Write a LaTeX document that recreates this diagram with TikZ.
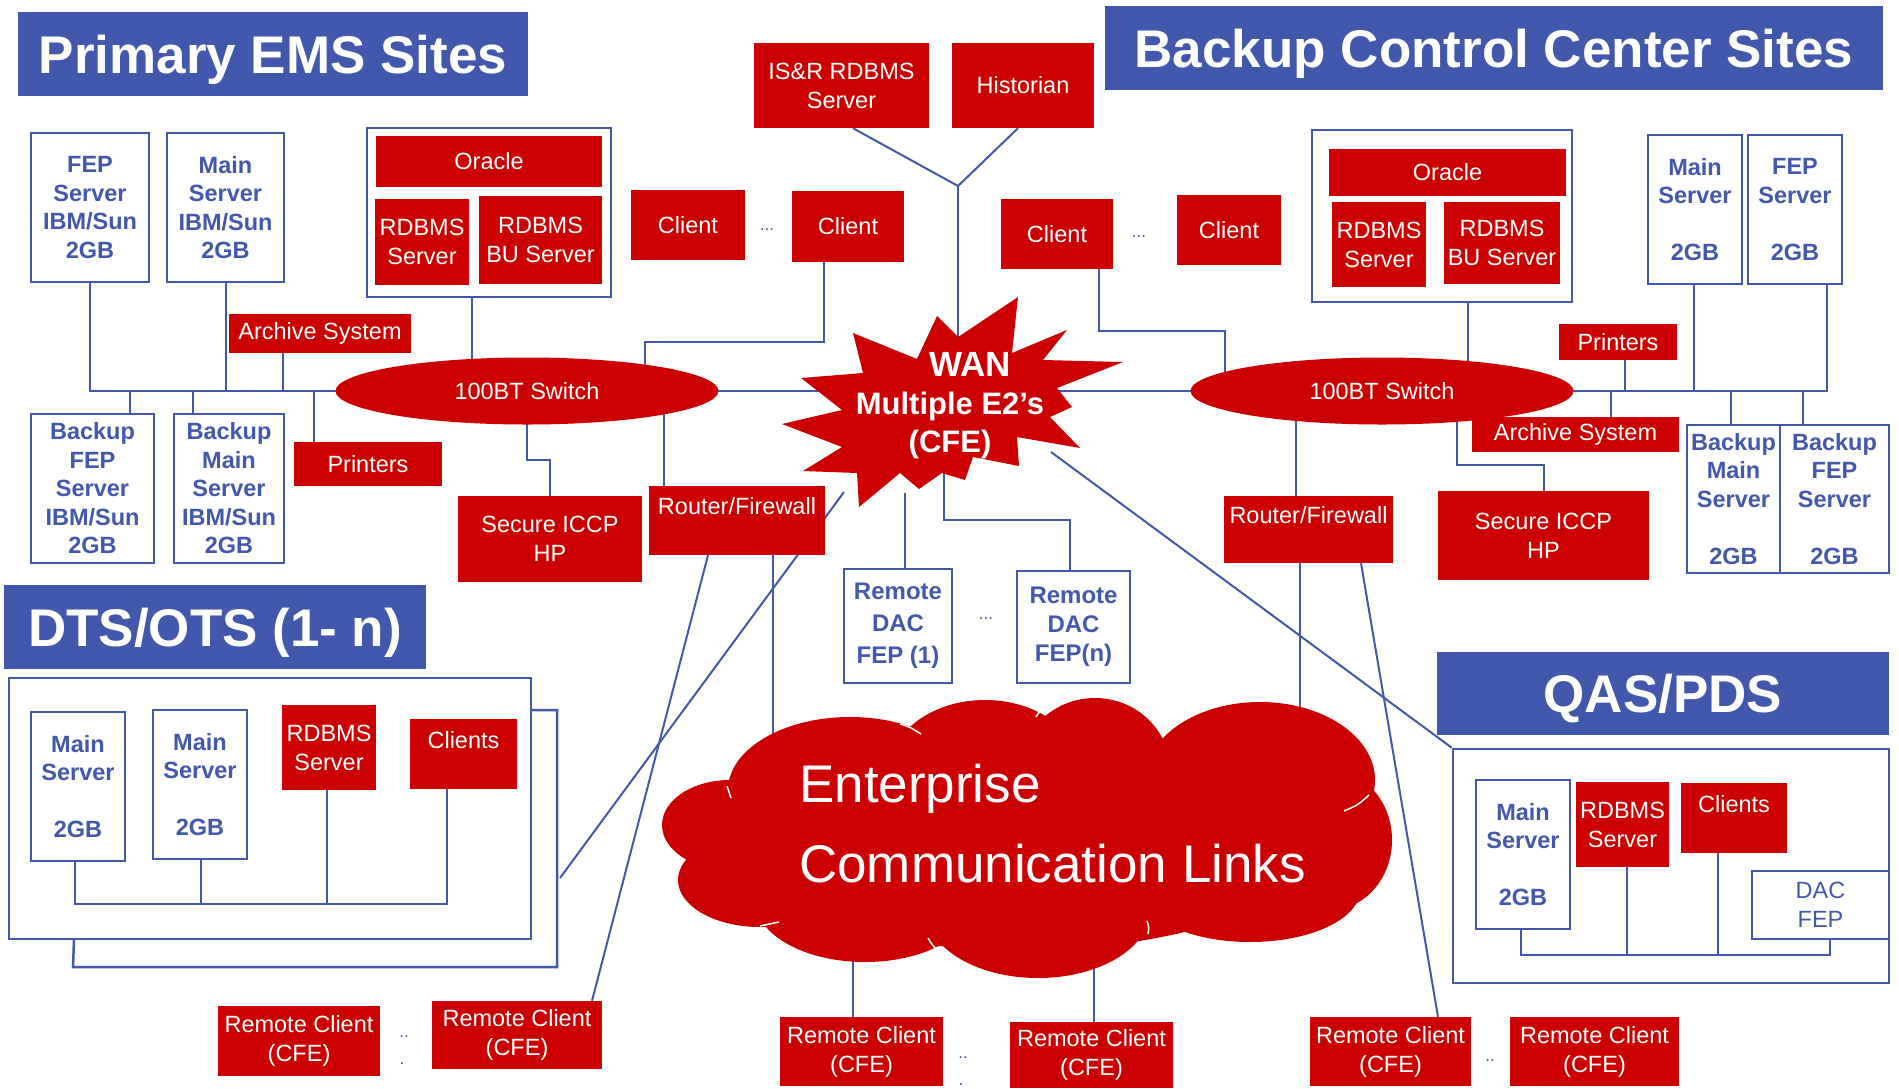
\documentclass[tikz,border=0pt]{standalone}
\usepackage{fontspec}
\setmainfont{Liberation Sans}
\usetikzlibrary{shapes.geometric}
\pgfdeclarelayer{bg}
\pgfsetlayers{bg,main}
\definecolor{emsblue}{RGB}{66,88,172}
\definecolor{emsred}{RGB}{204,0,0}
\tikzset{
  spanbox/.style n args={4}{minimum width={#3-#1},minimum height={#4-#2},at={({(#1+#3)/2},{(#2+#4)/2})}},
  redbox/.style={rectangle,fill=emsred,text=white,inner sep=0pt,align=center,font=\fontsize{23.5}{29}\selectfont},
  srvbox/.style={rectangle,draw=emsblue,line width=2pt,fill=white,text=emsblue,inner sep=0pt,align=center,font=\bfseries\fontsize{23.5}{28.5}\selectfont},
  groupbox/.style={rectangle,draw=emsblue,line width=2pt,fill=white,inner sep=0pt},
  panelbox/.style={rectangle,draw=emsblue,line width=2.5pt,inner sep=0pt},
  panelline/.style={draw=emsblue,line width=2.5pt},
  titlebox/.style={rectangle,fill=emsblue,text=white,inner sep=0pt,text height=38pt,text depth=0pt,font=\bfseries\fontsize{53}{60}\selectfont},
  swnode/.style={ellipse,fill=emsred,text=white,inner sep=0pt,minimum width=383pt,minimum height=67pt,font=\fontsize{23.5}{29}\selectfont},
  cable/.style={draw=emsblue,line width=2pt},
  seam/.style={draw=white,line width=1.5pt},
  dotlabel/.style={text=emsblue,inner sep=0pt,font=\fontsize{17}{17}\selectfont},
  wantext/.style={text=white,align=center,inner sep=0pt,font=\bfseries\fontsize{31}{38}\selectfont},
  cloudtext/.style={text=white,align=left,inner sep=0pt,font=\fontsize{53}{80}\selectfont}
}
\begin{document}
\begin{tikzpicture}[x=1pt,y=-1pt]
\useasboundingbox (0,0) rectangle (1899,1088);
\begin{pgfonlayer}{bg}
  \fill[white] (0,0) rectangle (1899,1088);
\end{pgfonlayer}

% ---------------- Primary EMS site ----------------
\node[titlebox,spanbox={18}{12}{528}{96}] (tPrimary) {Primary EMS Sites};
\node[srvbox,spanbox={31}{133}{149}{282}] (fepA) {FEP\\Server\\IBM/Sun\\2GB};
\node[srvbox,spanbox={167}{133}{284}{282}] (mainA) {Main\\Server\\IBM/Sun\\2GB};
\node[groupbox,spanbox={367}{128}{611}{297}] (oraA) {};
\node[redbox,spanbox={376}{136}{602}{187}] (oracleA) {Oracle};
\node[redbox,spanbox={375}{199}{469}{285}] (rdbA) {RDBMS\\Server};
\node[redbox,spanbox={479}{196}{602}{284}] (rdbbuA) {RDBMS\\BU Server};
\node[redbox,spanbox={229}{314}{411}{353}] (archA) {Archive System};
\node[srvbox,spanbox={31}{414}{154}{563}] (bfepA) {Backup\\FEP\\Server\\IBM/Sun\\2GB};
\node[srvbox,spanbox={174}{414}{284}{563}] (bmainA) {Backup\\Main\\Server\\IBM/Sun\\2GB};
\node[redbox,spanbox={294}{442}{442}{486}] (prnA) {Printers};
\node[swnode] (swA) at (527,391) {100BT Switch};
\node[redbox,spanbox={458}{496}{642}{582}] (iccpA) {Secure ICCP\\HP};
\node[redbox,spanbox={649}{486}{825}{555}] (rfA) {Router/Firewall\\~};
\node[redbox,spanbox={631}{190}{745}{260}] (cliA1) {Client};
\node[redbox,spanbox={792}{191}{904}{262}] (cliA2) {Client};
\node[dotlabel] (dotsA) at (767,230) {...};

% ---------------- DTS/OTS ----------------
\node[titlebox,spanbox={4}{585}{426}{669}] (tDTS) {DTS/OTS (1- n)};
\node[panelbox,spanbox={9}{678}{531}{939}] (dtsP) {};
\draw[panelline] (531,710) -- (557,710) -- (557,967) -- (73,967) -- (74,940);
\node[srvbox,spanbox={31}{712}{125}{861}] (dmain1) {Main\\Server\\[28.5pt]2GB};
\node[srvbox,spanbox={153}{710}{247}{859}] (dmain2) {Main\\Server\\[28.5pt]2GB};
\node[redbox,spanbox={282}{705}{376}{790}] (drdb) {RDBMS\\Server};
\node[redbox,spanbox={410}{719}{517}{789}] (dcli) {Clients\\~};
\node[redbox,spanbox={218}{1006}{380}{1076}] (rc1) {Remote Client\\(CFE)};
\node[redbox,spanbox={432}{1001}{602}{1069}] (rc2) {Remote Client\\(CFE)};
\node[dotlabel] (dotsR1) at (404,1037) {..};
\node[dotlabel] (dotsR1b) at (402,1064) {.};

% ---------------- WAN core ----------------
\node[redbox,spanbox={754}{43}{929}{128}] (isr) {IS\&R RDBMS\\Server};
\node[redbox,spanbox={952}{43}{1094}{128}] (hist) {Historian};
\coordinate (isrJ) at (958,186);
\fill[emsred] (853,333) -- (917,359) -- (937,316) -- (958,337) -- (1018,297)
  -- (1012,353) -- (1067,330) -- (1043,360) -- (1123,362) -- (1057,388)
  -- (1072,407) -- (1050,417) -- (1080,448) -- (1017,437) -- (1019,466)
  -- (973,457) -- (965,480) -- (942,473) -- (919,489) -- (900,473)
  -- (859,507) -- (857,473) -- (803,471) -- (842,447) -- (782,424)
  -- (842,410) -- (801,378) -- (863,373) -- cycle;
\node[wantext] (wan) at (950,406) {\hspace*{40pt}{\fontsize{35}{38}\selectfont WAN}\\Multiple E2’s\\(CFE)};
\node[srvbox,font=\bfseries\fontsize{24}{32}\selectfont,spanbox={844}{569}{952}{683}] (rdac1) {Remote\\DAC\\FEP (1)};
\node[srvbox,font=\bfseries\fontsize{24}{29}\selectfont,spanbox={1017}{571}{1130}{683}] (rdacn) {Remote\\DAC\\FEP(n)};
\node[dotlabel] (dotsC) at (986,619) {...};

% Enterprise cloud: overlapping lobes with thin seams where they meet
\coordinate (ecl) at (1020,840);
\fill[emsred] (730,825) ellipse (68 and 45)
  (760,880) ellipse (82 and 47)
  (850,790) ellipse (122 and 73)
  (985,770) ellipse (95 and 70)
  (1095,770) ellipse (75 and 72)
  (1260,780) ellipse (115 and 78)
  (1330,840) ellipse (62 and 70)
  (1250,890) ellipse (110 and 52)
  (1038,910) ellipse (112 and 68)
  (865,900) ellipse (110 and 62)
  (ecl) ellipse (300 and 110);
\draw[seam] (900,724) .. controls (910,727) .. (921,734);
\draw[seam] (727,786) .. controls (729,792) .. (731,798);
\draw[seam] (760,926) .. controls (769,924) .. (779,922);
\draw[seam] (928,938) .. controls (933,946) .. (940,953);
\draw[seam] (1147,921) .. controls (1149,927) .. (1148,934);
\draw[seam] (1036,717) .. controls (1039,712) .. (1044,708);
\draw[seam] (1152,717) .. controls (1156,711) .. (1164,706);
\draw[seam] (1344,811) .. controls (1358,805) .. (1369,795);
\node[cloudtext,anchor=west] (eclText) at (799,824) {Enterprise\\Communication Links};
\node[redbox,spanbox={780}{1017}{943}{1086}] (rc3) {Remote Client\\(CFE)};
\node[redbox,spanbox={1010}{1022}{1173}{1088}] (rc4) {Remote Client\\(CFE)};
\node[dotlabel] (dotsR2) at (963,1058) {..};
\node[dotlabel] (dotsR2b) at (961,1085) {.};

% ---------------- Backup control center ----------------
\node[titlebox,spanbox={1105}{6}{1883}{90}] (tBackup) {Backup Control Center Sites};
\node[redbox,spanbox={1001}{199}{1113}{269}] (cliB1) {Client};
\node[redbox,spanbox={1177}{195}{1281}{265}] (cliB2) {Client};
\node[dotlabel] (dotsB) at (1139,237) {...};
\node[groupbox,spanbox={1312}{130}{1572}{302}] (oraB) {};
\node[redbox,spanbox={1329}{149}{1566}{196}] (oracleB) {Oracle};
\node[redbox,spanbox={1332}{202}{1426}{287}] (rdbB) {RDBMS\\Server};
\node[redbox,spanbox={1444}{202}{1560}{284}] (rdbbuB) {RDBMS\\BU Server};
\node[srvbox,spanbox={1648}{135}{1742}{284}] (mainB) {Main\\Server\\[28.5pt]2GB};
\node[srvbox,spanbox={1748}{135}{1842}{284}] (fepB) {FEP\\Server\\[28.5pt]2GB};
\node[redbox,spanbox={1559}{324}{1677}{360}] (prnB) {Printers};
\node[swnode] (swB) at (1382,391) {100BT Switch};
\node[redbox,spanbox={1472}{417}{1679}{452}] (archB) {Archive System};
\node[srvbox,spanbox={1687}{425}{1780}{573}] (bmainB) {Backup\\Main\\Server\\[28.5pt]2GB};
\node[srvbox,spanbox={1780}{425}{1889}{573}] (bfepB) {Backup\\FEP\\Server\\[28.5pt]2GB};
\node[redbox,spanbox={1438}{491}{1649}{580}] (iccpB) {Secure ICCP\\HP};
\node[redbox,spanbox={1224}{496}{1393}{563}] (rfB) {Router/Firewall\\~};

% ---------------- QAS/PDS ----------------
\node[titlebox,spanbox={1437}{652}{1889}{735}] (tQAS) {QAS/PDS};
\node[panelbox,spanbox={1453}{749}{1889}{983}] (qasP) {};
\node[srvbox,spanbox={1476}{780}{1570}{929}] (qmain) {Main\\Server\\[28.5pt]2GB};
\node[redbox,spanbox={1576}{782}{1669}{867}] (qrdb) {RDBMS\\Server};
\node[redbox,spanbox={1681}{783}{1787}{853}] (qcli) {Clients\\~};
\node[srvbox,font=\fontsize{23.5}{28.5}\selectfont,spanbox={1752}{871}{1889}{939}] (qdac) {DAC\\FEP};
\node[redbox,spanbox={1310}{1017}{1471}{1086}] (rc5) {Remote Client\\(CFE)};
\node[redbox,spanbox={1510}{1017}{1679}{1086}] (rc6) {Remote Client\\(CFE)};
\node[dotlabel] (dotsR3) at (1490,1061) {..};

% ---------------- connectors ----------------
\begin{pgfonlayer}{bg}
  % primary site LAN
  \draw[cable] (fepA.south) |- (swA.center);
  \draw[cable] (mainA.south) -- (mainA.south |- swA.center);
  \draw[cable] (archA.south -| 283,0) -- (283,391);
  \draw[cable] (bfepA.north -| 130,0) -- (130,391);
  \draw[cable] (bmainA.north -| 193,0) -- (193,391);
  \draw[cable] (prnA.north -| 314,0) -- (314,391);
  \draw[cable] (oraA.south -| 472,0) -- (swA.center -| 472,0);
  \draw[cable] (cliA2.south -| 824,0) -- (824,342) -| (swA.center -| 645,0);
  \draw[cable] (swA.center) -- (527,460) -| (iccpA.north -| 550,0);
  \draw[cable] (swA.center -| 664,0) -- (rfA.north -| 664,0);
  \draw[cable] (rfA.south -| 773,0) -- (ecl -| 773,0);
  \draw[cable] (rfA.south -| 708,0) -- (rc2.north -| 592,0);
  % WAN trunk between the two switches
  \draw[cable] (swA.center) -- (swB.center);
  % servers above the WAN
  \draw[cable] (isr.south -| 853,0) -- (isrJ);
  \draw[cable] (hist.south -| 1018,0) -- (isrJ);
  \draw[cable] (isrJ) -- (wan.center -| isrJ);
  % remote DAC front ends
  \draw[cable] (905,493) -- (rdac1.north -| 905,0);
  \draw[cable] (944,472) -- (944,520) -| (rdacn.north -| 1070,0);
  % links to DTS/OTS and QAS/PDS
  \draw[cable] (844,492) -- (560,878);
  \draw[cable] (1051,452) -- (qasP.north west);
  % DTS/OTS LAN
  \draw[cable] (dmain1.south -| 75,0) -- (75,904) -- (447,904) -- (dcli.south -| 447,0);
  \draw[cable] (dmain2.south -| 201,0) -- (201,904);
  \draw[cable] (drdb.south -| 327,0) -- (327,904);
  % remote clients on the enterprise cloud
  \draw[cable] (rc3.north -| 853,0) -- (ecl -| 853,0);
  \draw[cable] (rc4.north -| 1094,0) -- (ecl -| 1094,0);
  % backup site LAN
  \draw[cable] (cliB1.south -| 1099,0) -- (1099,331) -| (swB.center -| 1225,0);
  \draw[cable] (oraB.south -| 1468,0) -- (swB.center -| 1468,0);
  \draw[cable] (swB.center) -| (fepB.south -| 1827,0);
  \draw[cable] (mainB.south -| 1694,0) -- (1694,391);
  \draw[cable] (prnB.south -| 1625,0) -- (1625,391);
  \draw[cable] (archB.north -| 1611,0) -- (1611,391);
  \draw[cable] (bmainB.north -| 1731,0) -- (1731,391);
  \draw[cable] (bfepB.north -| 1803,0) -- (1803,391);
  \draw[cable] (swB.center -| 1457,0) -- (1457,465) -| (iccpB.north -| 1544,0);
  \draw[cable] (swB.center -| 1296,0) -- (rfB.north -| 1296,0);
  \draw[cable] (rfB.south -| 1300,0) -- (ecl -| 1300,0);
  \draw[cable] (rfB.south -| 1361,0) -- (rc5.north -| 1438,0);
  % QAS/PDS LAN
  \draw[cable] (qmain.south -| 1521,0) -- (1521,955) -- (1830,955) -- (qdac.south -| 1830,0);
  \draw[cable] (qrdb.south -| 1627,0) -- (1627,955);
  \draw[cable] (qcli.south -| 1718,0) -- (1718,955);
\end{pgfonlayer}
\end{tikzpicture}
\end{document}
